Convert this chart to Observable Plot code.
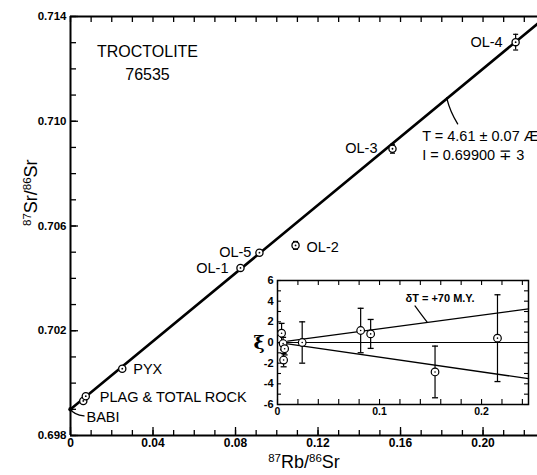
<!DOCTYPE html>
<html>
<head>
<meta charset="utf-8">
<script src="https://cdn.jsdelivr.net/npm/d3@7"></script>
<script src="https://cdn.jsdelivr.net/npm/@observablehq/plot@0.6"></script>
<style>
  html, body { margin: 0; padding: 0; background: #fff; }
  #wrap { position: relative; width: 537px; height: 475px; overflow: hidden; background: #fff; }
  #wrap svg { position: absolute; background: transparent; }
</style>
</head>
<body>
<div id="wrap"></div>
<script>
// ---------------- Main isochron data ----------------
const samples     = ["BABI", "PLAG", "TOTAL ROCK", "PYX", "OL-1", "OL-5", "OL-2", "OL-3", "OL-4"];
const rbSr        = [0, 0.0062, 0.0074, 0.0251, 0.0824, 0.0916, 0.1091, 0.1561, 0.2158];
const srSr        = [0.69900, 0.69932, 0.69950, 0.70055, 0.70440, 0.70498, 0.70526, 0.70895, 0.71302];
const srErr       = [0, 0, 0, 0, 0, 0, 0.00015, 0.00017, 0.00030];
const pointLabels = ["BABI", "", "PLAG & TOTAL ROCK", "PYX", "OL-1", "OL-5", "OL-2", "OL-3", "OL-4"];

const isochronX = [0, 0.2264];
const isochronY = [0.69900, 0.71372];

const xTickLabels = [0, 0.04, 0.08, 0.12, 0.16, 0.20];
const yTickLabels = [0.698, 0.702, 0.706, 0.710, 0.714];

const sampleName = ["TROCTOLITE", "76535"];
const ageText = ["T = 4.61 ± 0.07 Æ", "I = 0.69900 ∓ 3"];
// axis titles: [text, isSuperscript]
const xTitleParts = [["87", true], ["Rb/", false], ["86", true], ["Sr", false]];
const yTitleParts = [["87", true], ["Sr/", false], ["86", true], ["Sr", false]];

// ---------------- Inset (residuals ξ) data ----------------
const residX   = [0.004, 0.0055, 0.007, 0.006, 0.0242, 0.0815, 0.0913, 0.1544, 0.2156];
const residXi  = [0.9, -0.1, -0.6, -1.7, 0.0, 1.16, 0.83, -2.85, 0.42];
const residErr = [0.95, 0.6, 0.6, 0.65, 2.0, 2.15, 1.4, 2.5, 4.2];
const envelopeX     = [0.01, 0.246];
const envelopeUpper = [0.13, 3.25];
const envelopeLower = [-0.14, -3.5];
const insetXLabels = [0, 0.1, 0.2];
const insetYLabels = [6, 4, 2, 0, -2, -4, -6];
const deltaText = "δT = +70 M.Y.";
const xiText = "ξ";

// ---------------- Styles ----------------
const font = "'Liberation Sans', Arial, Helvetica, sans-serif";
const W = 537, H = 475;
const mL = 70, mR = 0, mT = 16, mB = 40;
const frameW = W - mL - mR, frameH = H - mT - mB;

const xTitle = xTitleParts.map(p => p[0]).join("");
const yTitle = yTitleParts.map(p => p[0]).join("");

const pts = samples.map((s, i) => ({sample: s, x: rbSr[i], y: srSr[i], err: srErr[i], label: pointLabels[i]}));
const errPts = pts.filter(d => d.err > 0);
const isoLine = isochronX.map((x, i) => ({x, y: isochronY[i]}));

const xMinor = d3.range(23).map(i => i / 100);
const yMinor = d3.range(17).map(i => 0.698 + i / 1000);

const capSymbol = {
  draw(ctx, size) { const w = Math.sqrt(size / Math.PI); ctx.moveTo(-w, 0); ctx.lineTo(w, 0); }
};

const labelPlacement = {
  "BABI":       {dx: 16, dy: 8, anchor: "start"},
  "TOTAL ROCK": {dx: 14, dy: 1, anchor: "start"},
  "PYX":        {dx: 11, dy: 1, anchor: "start"},
  "OL-1":       {dx: -12, dy: 0, anchor: "end"},
  "OL-5":       {dx: -8, dy: 0, anchor: "end"},
  "OL-2":       {dx: 11, dy: 2, anchor: "start"},
  "OL-3":       {dx: -15, dy: 0, anchor: "end"},
  "OL-4":       {dx: -13, dy: 0, anchor: "end"}
};

function leader(specs, sw = 1.3) {
  return (index, scales) => {
    const sx = scales.x, sy = scales.y;
    const g = d3.create("svg:g").attr("fill", "none").attr("stroke", "black")
      .attr("stroke-width", sw).attr("stroke-linecap", "round");
    for (const s of specs) {
      g.append("path").attr("d", `M${sx(s.x)},${sy(s.y)}${s.path}`);
    }
    return g.node();
  };
}

function superscriptify(svg, plain, parts, supSize, shift) {
  svg.querySelectorAll("text").forEach(t => {
    if (t.textContent === plain) {
      while (t.firstChild) t.removeChild(t.firstChild);
      let prevSup = false;
      for (const [s, sup] of parts) {
        const ts = document.createElementNS("http://www.w3.org/2000/svg", "tspan");
        ts.textContent = s;
        if (sup) {
          ts.setAttribute("font-size", supSize);
          if (!prevSup) ts.setAttribute("dy", -shift);
        } else if (prevSup) {
          ts.setAttribute("dy", shift);
        }
        prevSup = sup;
        t.appendChild(ts);
      }
    }
  });
}

const labelMarks = pts.filter(d => d.label !== "").map(d => {
  const p = labelPlacement[d.sample];
  return Plot.text([d], {x: "x", y: "y", text: "label", dx: p.dx, dy: p.dy, textAnchor: p.anchor,
    fontSize: 14.5, fontFamily: font});
});

// anchor on isochron for T annotation
const tAnchorX = 0.1826;
const tAnchor = {x: tAnchorX, y: isochronY[0] + (isochronY[1] - isochronY[0]) * (tAnchorX - isochronX[0]) / (isochronX[1] - isochronX[0])};

const main = Plot.plot({
  width: W, height: H,
  marginLeft: mL, marginRight: mR, marginTop: mT, marginBottom: mB,
  x: {domain: [0, 0.2264], label: null},
  y: {domain: [0.698, 0.714], label: null},
  style: {fontFamily: font, background: "transparent", color: "black"},
  marks: [
    Plot.ruleX([0], {strokeWidth: 2}),
    Plot.ruleY([0.698, 0.714], {strokeWidth: 2}),
    Plot.tickX(xMinor, {x: d => d, insetTop: frameH - 5, strokeWidth: 1.3}),
    Plot.tickX(xTickLabels, {x: d => d, insetTop: frameH - 8, strokeWidth: 1.3}),
    Plot.tickX(xMinor, {x: d => d, insetBottom: frameH - 6, strokeWidth: 1.3}),
    Plot.tickY(yMinor, {y: d => d, insetRight: frameW - 6, strokeWidth: 1.3}),
    Plot.tickY(yTickLabels, {y: d => d, insetRight: frameW - 8, strokeWidth: 1.3}),
    Plot.axisX(xTickLabels, {tickSize: 0, tickPadding: 3, label: null, fontSize: 12, fontWeight: "bold",
      tickFormat: d => d === 0 ? "0" : d.toFixed(2)}),
    Plot.axisY(yTickLabels, {tickSize: 0, tickPadding: 4, label: null, fontSize: 11.5, fontWeight: "bold",
      tickFormat: d => d.toFixed(3)}),
    Plot.text([xTitle], {frameAnchor: "bottom", dy: 32, text: d => d, fontSize: 18, fontFamily: font}),
    Plot.text([yTitle], {frameAnchor: "left", dx: -39, rotate: -90, text: d => d, fontSize: 18, fontFamily: font}),
    Plot.text([sampleName[0]], {frameAnchor: "top-left", dx: 77, dy: 29, text: d => d, textAnchor: "middle", fontSize: 16, fontFamily: font}),
    Plot.text([sampleName[1]], {frameAnchor: "top-left", dx: 77, dy: 52, text: d => d, textAnchor: "middle", fontSize: 16, fontFamily: font}),
    Plot.line(isoLine, {x: "x", y: "y", strokeWidth: 2.6}),
    Plot.ruleX(errPts, {x: "x", y1: d => d.y - d.err, y2: d => d.y + d.err, strokeWidth: 1.2}),
    Plot.dot(errPts, {x: "x", y: d => d.y - d.err, symbol: capSymbol, r: 2.5, stroke: "black", fill: "none", strokeWidth: 1.2}),
    Plot.dot(errPts, {x: "x", y: d => d.y + d.err, symbol: capSymbol, r: 2.5, stroke: "black", fill: "none", strokeWidth: 1.2}),
    Plot.dot(pts.filter(d => d.sample !== "BABI"), {x: "x", y: "y", r: 3.6, fill: "white", stroke: "black", strokeWidth: 1.3}),
    Plot.dot(pts.filter(d => d.sample !== "BABI"), {x: "x", y: "y", r: 0.9, fill: "black"}),
    Plot.dot(pts.filter(d => d.sample === "BABI"), {x: "x", y: "y", r: 2.2, fill: "black"}),
    ...labelMarks,
    leader([
      {x: pts[0].x, y: pts[0].y, path: "q4,6 14,7"},
      {x: tAnchor.x, y: tAnchor.y, path: "c2,8 6,18 11,26"}
    ]),
    Plot.text([ageText[0]], {x: tAnchor.x, y: tAnchor.y, text: d => d, dx: -25, dy: 38, textAnchor: "start", fontSize: 14.5, fontFamily: font}),
    Plot.text([ageText[1]], {x: tAnchor.x, y: tAnchor.y, text: d => d, dx: -25, dy: 57, textAnchor: "start", fontSize: 14.5, fontFamily: font})
  ]
});
main.style.left = "0px";
main.style.top = "0px";
superscriptify(main, xTitle, xTitleParts, 11.5, 6);
superscriptify(main, yTitle, yTitleParts, 11.5, 6);
document.getElementById("wrap").appendChild(main);

// ---------------- Inset ----------------
const inW = 299, inH = 148;
const imL = 40, imR = 8, imT = 6, imB = 18;
const inFrameW = inW - imL - imR, inFrameH = inH - imT - imB;
const resid = residX.map((x, i) => ({x, v: residXi[i], e: residErr[i]}));
const upper = envelopeX.map((x, i) => ({x, v: envelopeUpper[i]}));
const lower = envelopeX.map((x, i) => ({x, v: envelopeLower[i]}));
const inXTicks = d3.range(13).map(i => i * 0.02);
const inYTicks = d3.range(13).map(i => i - 6);
const dAnchorX = 0.147;
const dAnchor = {x: dAnchorX, y: envelopeUpper[0] + (envelopeUpper[1] - envelopeUpper[0]) * (dAnchorX - envelopeX[0]) / (envelopeX[1] - envelopeX[0])};

const inset = Plot.plot({
  width: inW, height: inH,
  marginLeft: imL, marginRight: imR, marginTop: imT, marginBottom: imB,
  x: {domain: [0, 0.246], label: null},
  y: {domain: [-6, 6], label: null},
  style: {fontFamily: font, background: "transparent", color: "black"},
  marks: [
    Plot.frame({strokeWidth: 1.5}),
    Plot.tickX(inXTicks, {x: d => d, insetTop: inFrameH - 5, strokeWidth: 1.1}),
    Plot.tickX(inXTicks, {x: d => d, insetBottom: inFrameH - 5, strokeWidth: 1.1}),
    Plot.tickY(inYTicks, {y: d => d, insetRight: inFrameW - 4, strokeWidth: 1.1}),
    Plot.tickY(inYTicks, {y: d => d, insetLeft: inFrameW - 4, strokeWidth: 1.1}),
    Plot.axisX(insetXLabels, {tickSize: 0, tickPadding: 3, label: null, fontSize: 10.5, fontWeight: "bold",
      tickFormat: d => d === 0 ? "0" : String(d)}),
    Plot.axisY(insetYLabels, {tickSize: 0, tickPadding: 4, label: null, fontSize: 11, fontWeight: "bold",
      tickFormat: d => String(d)}),
    Plot.ruleY([0], {strokeWidth: 1.1}),
    Plot.line(upper, {x: "x", y: "v", strokeWidth: 1.3}),
    Plot.line(lower, {x: "x", y: "v", strokeWidth: 1.3}),
    Plot.ruleX(resid, {x: "x", y1: d => d.v - d.e, y2: d => d.v + d.e, strokeWidth: 1.2}),
    Plot.dot(resid, {x: "x", y: d => d.v - d.e, symbol: capSymbol, r: 3, stroke: "black", fill: "none", strokeWidth: 1.3}),
    Plot.dot(resid, {x: "x", y: d => d.v + d.e, symbol: capSymbol, r: 3, stroke: "black", fill: "none", strokeWidth: 1.3}),
    Plot.dot(resid, {x: "x", y: "v", r: 3.8, fill: "white", stroke: "black", strokeWidth: 1.2}),
    Plot.dot(resid, {x: "x", y: "v", r: 0.8, fill: "black"}),
    Plot.text([xiText], {frameAnchor: "left", dx: -24, text: d => d, fontSize: 19, fontWeight: "bold", fontFamily: "'DejaVu Serif', serif"}),
    leader([{x: dAnchor.x, y: dAnchor.y, path: "q-4,-5 -12,-16"}], 1.2),
    Plot.text([deltaText], {x: dAnchor.x, y: dAnchor.y, text: d => d, dx: -22, dy: -24, textAnchor: "start", fontSize: 11, fontWeight: "bold", fontFamily: font})
  ]
});
inset.style.left = (277 - imL) + "px";
inset.style.top = (280 - imT) + "px";
document.getElementById("wrap").appendChild(inset);
</script>
</body>
</html>
